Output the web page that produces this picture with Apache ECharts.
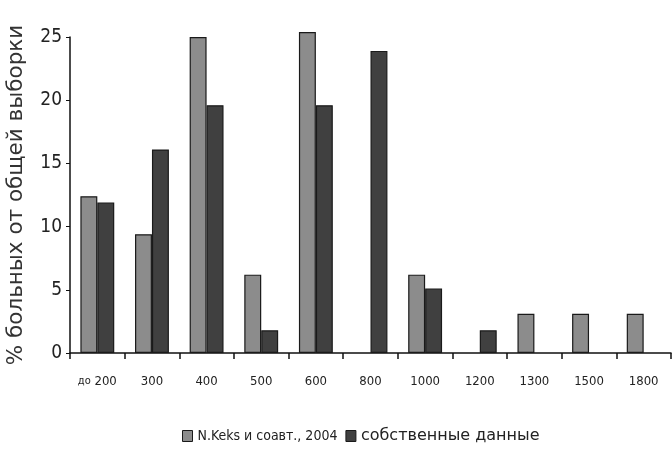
<!DOCTYPE html>
<html><head><meta charset="utf-8">
<script src="https://cdn.jsdelivr.net/npm/echarts@6/dist/echarts.min.js"></script>
<style>html,body{margin:0;padding:0;background:#fff}#c{width:672px;height:452px}</style>
</head><body><div id="c"></div>
<script>
const categories = ['до 200','300','400','500','600','800','1000','1200','1300','1500','1800'];
const keksValues = [12.4, 9.4, 25, 6.2, 25.4, null, 6.2, null, 3.1, 3.1, 3.1];
const ownValues = [11.9, 16.1, 19.6, 1.8, 19.6, 23.9, 5.1, 1.8, null, null, null];
const seriesNames = ['N.Keks и соавт., 2004', 'собственные данные'];
const yTicks = [0, 5, 10, 15, 20, 25];

const chart = echarts.init(document.getElementById('c'));
chart.setOption({
  animation: false,
  grid: {left: 70, right: 1, top: 37, bottom: 99, outerBoundsMode: 'none', containLabel: false},
  legend: {
    bottom: 3, left: 177, icon: 'rect',
    itemWidth: 10, itemHeight: 11, itemGap: 8,
    textStyle: {fontFamily: 'DejaVu Sans Condensed', fontSize: 14, color: '#222',
      rich: {a: {fontFamily: 'DejaVu Sans Condensed', fontSize: 14, color: '#222'},
             b: {fontFamily: 'DejaVu Sans', fontSize: 16, color: '#222'}}},
    formatter: function (n) { return n === seriesNames[0] ? '{a|' + n + '}' : '{b|' + n + '}'; },
    itemStyle: {borderColor: '#1a1a1a', borderWidth: 1},
    data: seriesNames
  },
  xAxis: {
    type: 'category', data: categories,
    axisLine: {lineStyle: {color: '#111', width: 1.5}},
    axisTick: {show: true, interval: 0, length: 6, lineStyle: {color: '#111', width: 1.5}},
    axisLabel: {
      interval: 0,
      color: '#222', fontFamily: 'DejaVu Sans Condensed', fontSize: 13, margin: 22,
      formatter: function (v) { return v.indexOf('до ') === 0 ? '{s|до} ' + v.slice(3) : v; },
      rich: {s: {fontSize: 11, fontFamily: 'DejaVu Sans Condensed', color: '#222'}}
    }
  },
  yAxis: {
    type: 'value', min: yTicks[0], max: yTicks[yTicks.length - 1], interval: 5,
    name: '% больных от общей выборки', nameLocation: 'middle', nameGap: 43, nameRotate: 90,
    nameTextStyle: {fontFamily: 'DejaVu Sans', fontSize: 21.5, color: '#333'},
    axisLine: {show: true, lineStyle: {color: '#111', width: 1.5}},
    axisTick: {show: true, length: 4, lineStyle: {color: '#111'}},
    splitLine: {show: false},
    axisLabel: {color: '#222', fontFamily: 'DejaVu Sans Condensed', fontSize: 19, margin: 8}
  },
  series: [
    {name: seriesNames[0], type: 'bar', data: keksValues, clip: false, barGap: '0%', barCategoryGap: '38%',
     itemStyle: {color: '#8c8c8c', borderColor: '#1a1a1a', borderWidth: 1.2}},
    {name: seriesNames[1], type: 'bar', data: ownValues, clip: false,
     itemStyle: {color: '#404040', borderColor: '#1a1a1a', borderWidth: 1.2}}
  ]
});
</script></body></html>
